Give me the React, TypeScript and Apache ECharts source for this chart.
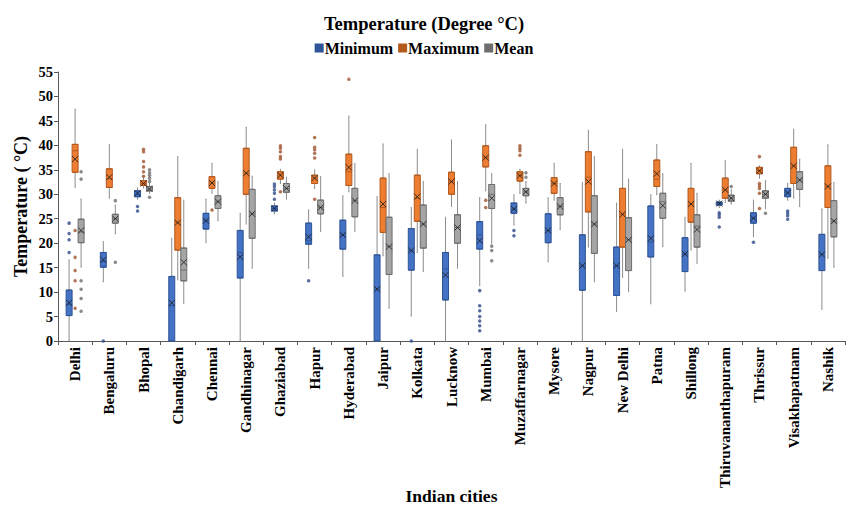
import React, { useEffect, useRef } from "react";
import * as echarts from "echarts";

const cities = [
  "Delhi", "Bengaluru", "Bhopal", "Chandigarh", "Chennai", "Gandhinagar", "Ghaziabad",
  "Hapur", "Hyderabad", "Jaipur", "Kolkata", "Lucknow", "Mumbai", "Muzaffarnagar",
  "Mysore", "Nagpur", "New Delhi", "Patna", "Shillong", "Thiruvananthapuram",
  "Thrissur", "Visakhapatnam", "Nashik",
];

const yTicks = { min: 0, max: 55, interval: 5 };

// [lower whisker, Q1, median, Q3, upper whisker]
const minimumStats = [
  [0, 5.2, 7.5, 10.4, 16.6], [12.1, 15.1, 16.3, 18.1, 20.3], [29.0, 29.5, 30.0, 30.7, 31.3],
  [0, 0, 7.2, 13.2, 21.0], [20.1, 22.9, 24.6, 26.1, 29.0], [0, 12.9, 18.1, 22.6, 26.1],
  [26.0, 26.6, 27.1, 27.6, 28.2], [14.9, 19.8, 20.5, 24.1, 26.8], [13.2, 18.8, 21.7, 24.7, 29.7],
  [0, 0, 10.6, 17.6, 29.5], [5.1, 14.5, 18.5, 23.0, 27.3], [0, 8.4, 14.7, 18.1, 25.3],
  [11.3, 18.8, 21.7, 24.4, 29.3], [23.7, 26.1, 27.0, 28.2, 29.9], [16.2, 20.1, 22.6, 26.0, 29.3],
  [0, 10.4, 15.4, 21.7, 32.4], [6.0, 9.3, 15.4, 19.2, 28.2], [7.6, 17.2, 20.2, 27.6, 29.9],
  [10.2, 14.2, 17.8, 21.1, 25.3], [27.3, 27.8, 28.1, 28.4, 28.8], [21.3, 24.1, 25.1, 26.2, 28.8],
  [28.8, 29.5, 30.3, 31.2, 32.2], [6.5, 14.4, 17.7, 21.8, 27.0],
];
const minimumMeans = [7.8, 16.6, 30.2, 7.8, 24.6, 17.2, 27.1, 21.3, 21.7, 10.6, 18.5, 13.5, 20.5, 27.0, 22.6, 15.4, 15.4, 21.0, 17.8, 28.1, 25.1, 30.3, 17.7];
const minimumOutliers = [
  [0, 24.1], [0, 22.0], [0, 20.7], [0, 18.1], [1, 0], [2, 27.5], [2, 26.6],
  [6, 32.1], [6, 31.6], [6, 30.9], [6, 30.2], [6, 29.0], [7, 12.3], [10, 0],
  [12, 10.3], [12, 7.2], [12, 6.2], [12, 5.0], [12, 4.1], [12, 3.1], [12, 2.1],
  [13, 22.6], [13, 21.5], [19, 26.2], [19, 25.8], [19, 25.3], [19, 23.3], [20, 20.2],
  [21, 26.6], [21, 26.1], [21, 25.6], [21, 24.9],
];

const maximumStats = [
  [31.4, 34.5, 38.9, 40.2, 47.4], [29.2, 31.4, 33.2, 35.2, 40.2], [31.3, 31.8, 32.2, 32.8, 33.5],
  [12.5, 18.6, 24.2, 29.3, 37.7], [30.2, 31.2, 32.3, 33.6, 36.3], [23.9, 30.0, 34.3, 39.4, 43.7],
  [32.2, 33.1, 33.9, 34.6, 35.1], [31.2, 32.2, 33.3, 33.9, 35.0], [30.5, 31.8, 34.6, 38.2, 46.0],
  [17.4, 22.2, 27.3, 33.3, 40.3], [18.1, 24.5, 29.2, 33.9, 39.2], [27.5, 30.0, 32.6, 34.5, 41.1],
  [30.7, 35.6, 37.5, 39.9, 44.2], [30.2, 32.7, 33.8, 34.6, 35.1], [28.8, 30.2, 32.2, 33.4, 36.3],
  [19.2, 26.4, 33.5, 38.7, 43.1], [13.0, 19.2, 25.9, 31.2, 39.2], [29.9, 31.6, 33.1, 37.0, 40.2],
  [18.6, 24.3, 28.0, 31.2, 36.3], [28.3, 29.2, 30.9, 33.3, 36.9], [33.3, 34.2, 34.8, 35.5, 35.8],
  [29.2, 32.2, 35.8, 39.6, 43.3], [16.9, 27.3, 31.6, 35.8, 40.1],
];
const maximumMeans = [37.2, 33.5, 32.2, 24.2, 32.3, 34.3, 33.9, 33.3, 35.5, 28.0, 29.5, 32.6, 37.5, 33.8, 32.2, 32.6, 25.9, 34.2, 28.0, 30.9, 34.8, 35.8, 31.6];
const maximumOutliers = [
  [0, 22.6], [0, 17.1], [0, 14.4], [0, 12.3], [0, 6.7],
  [2, 39.2], [2, 38.7], [2, 36.7], [2, 35.6], [2, 34.6], [2, 33.7], [4, 26.8],
  [6, 39.9], [6, 39.4], [6, 38.7], [6, 37.7], [6, 37.2], [6, 30.5],
  [7, 41.6], [7, 39.6], [7, 39.1], [7, 38.4], [7, 37.4], [7, 29.0], [8, 53.5],
  [12, 28.8], [12, 27.3], [13, 39.9], [13, 39.4], [13, 38.9], [13, 38.0],
  [20, 37.7], [20, 32.2], [20, 31.7], [20, 31.2], [20, 30.2], [20, 27.1],
];

const meanStats = [
  [15.1, 20.1, 22.3, 24.9, 29.0], [21.9, 24.1, 25.0, 25.9, 27.8], [30.2, 30.7, 31.1, 31.6, 32.2],
  [7.7, 12.3, 14.5, 19.0, 28.8], [24.6, 27.1, 28.5, 29.7, 32.6], [14.9, 21.0, 26.0, 31.0, 33.7],
  [29.0, 30.4, 31.2, 32.2, 33.5], [22.4, 26.0, 27.3, 28.8, 33.6], [22.4, 25.4, 28.7, 31.2, 36.3],
  [6.7, 13.6, 19.3, 25.3, 34.2], [14.2, 19.0, 23.9, 27.8, 32.6], [14.9, 20.0, 23.2, 25.8, 32.6],
  [20.0, 27.1, 30.0, 32.0, 34.2], [28.2, 29.7, 30.5, 31.2, 32.6], [22.8, 25.8, 27.5, 29.3, 32.2],
  [12.1, 17.9, 23.9, 29.7, 37.7], [10.1, 14.4, 20.7, 25.2, 33.1], [19.3, 25.1, 28.5, 30.2, 34.2],
  [15.9, 19.2, 23.5, 25.8, 30.2], [28.0, 28.6, 29.2, 29.8, 30.9], [27.1, 29.2, 30.0, 30.7, 32.8],
  [27.5, 31.0, 32.9, 34.6, 37.2], [15.1, 21.3, 24.5, 28.7, 32.4],
];
const meanMeans = [22.6, 25.0, 31.1, 16.1, 28.5, 26.0, 31.2, 27.3, 28.7, 19.3, 23.9, 23.2, 29.2, 30.5, 27.5, 23.9, 20.7, 27.7, 22.8, 29.2, 30.0, 32.9, 24.5];
const meanOutliers = [
  [0, 34.6], [0, 33.1], [0, 12.3], [0, 10.6], [0, 8.7], [0, 6.1], [1, 28.7], [1, 16.1],
  [2, 35.0], [2, 34.4], [2, 33.9], [2, 33.3], [2, 32.6], [2, 29.4],
  [12, 19.4], [12, 18.5], [12, 16.4], [13, 34.4], [13, 33.5], [19, 31.6], [20, 26.1],
];

const groups = [
  { name: "Minimum", stats: minimumStats, means: minimumMeans, outliers: minimumOutliers, fill: "#4472C4", border: "#2F5597", dot: "#2F4B8A" },
  { name: "Maximum", stats: maximumStats, means: maximumMeans, outliers: maximumOutliers, fill: "#ED7D31", border: "#B35A1F", dot: "#A0522D" },
  { name: "Mean", stats: meanStats, means: meanMeans, outliers: meanOutliers, fill: "#A5A5A5", border: "#6E6E6E", dot: "#6E6E6E" },
];

const FONT = "'Liberation Serif', 'Times New Roman', serif";
const GRID_LEFT = 58;
const GRID_W = 787;
const GRID_TOP = 72;
const GRID_H = 269;
const OFFSETS = [-6, 0, 6];
const MAIN_AXIS = 6; // an extra, visible axis pair with no offset

export default function App() {
  const ref = useRef<HTMLDivElement>(null);
  useEffect(() => {
    if (!ref.current) return;
    const chart = echarts.init(ref.current, null, { renderer: "svg" });
    // grid index layout: 0..2 whiskers, 3..5 boxes, 6 visible axes
    const gridOffsets = [...OFFSETS, ...OFFSETS, 0];
    const grids = gridOffsets.map((o) => ({
      left: GRID_LEFT + o,
      top: GRID_TOP,
      width: GRID_W,
      height: GRID_H,
      containLabel: false,
      outerBoundsMode: "none",
    }));
    const xAxes = gridOffsets.map((o, i) => ({
      type: "category",
      gridIndex: i,
      data: cities,
      show: i === MAIN_AXIS,
      boundaryGap: true,
      axisLine: { show: true, lineStyle: { color: "#595959", width: 1 } },
      axisTick: { show: true, length: 4, alignWithLabel: false, lineStyle: { color: "#595959" } },
      axisLabel: { interval: 0, rotate: 90, margin: 6, color: "#000", fontFamily: FONT, fontWeight: "bold", fontSize: 15 },
      splitLine: { show: false },
      name: "Indian cities",
      nameLocation: "middle",
      nameGap: 146,
      nameMoveOverlap: false,
      nameTextStyle: { color: "#000", fontFamily: FONT, fontWeight: "bold", fontSize: 17.5 },
    }));
    const yAxes = gridOffsets.map((o, i) => ({
      type: "value",
      gridIndex: i,
      show: i === MAIN_AXIS,
      min: yTicks.min,
      max: yTicks.max,
      interval: yTicks.interval,
      axisLine: { show: true, lineStyle: { color: "#595959", width: 1 } },
      axisTick: { show: true, length: 4, lineStyle: { color: "#595959" } },
      axisLabel: { margin: 5, color: "#000", fontFamily: FONT, fontWeight: "bold", fontSize: 14.5 },
      splitLine: { show: false },
      name: "Temperature ( °C)",
      nameLocation: "middle",
      nameGap: 28,
      nameMoveOverlap: false,
      nameRotate: 90,
      nameTextStyle: { color: "#000", fontFamily: FONT, fontWeight: "bold", fontSize: 18 },
    }));
    const series: any[] = [];
    groups.forEach((g, i) => {
      series.push({
        type: "boxplot",
        name: g.name + " whisker",
        xAxisIndex: i,
        yAxisIndex: i,
        z: 2,
        silent: true,
        boxWidth: [1, 1],
        itemStyle: { color: "#8C8C8C", borderColor: "#8C8C8C", borderWidth: 1 },
        data: g.stats,
      });
      series.push({
        type: "boxplot",
        name: g.name,
        xAxisIndex: i + 3,
        yAxisIndex: i + 3,
        z: 3,
        silent: true,
        boxWidth: [6, 6],
        itemStyle: { color: g.fill, borderColor: g.border, borderWidth: 1 },
        data: g.stats.map((s) => [s[1], s[1], s[2], s[3], s[3]]),
      });
      series.push({
        type: "scatter",
        name: g.name + " mean",
        xAxisIndex: i,
        yAxisIndex: i,
        z: 5,
        silent: true,
        symbol: "path://M0,0L10,10M10,0L0,10",
        symbolSize: 6,
        itemStyle: { color: "transparent", borderColor: "#1a1a1a", borderWidth: 1 },
        data: g.means.map((m, k) => [k, m]),
      });
      series.push({
        type: "scatter",
        name: g.name + " outliers",
        xAxisIndex: i,
        yAxisIndex: i,
        z: 4,
        silent: true,
        symbol: "circle",
        symbolSize: 3.5,
        itemStyle: { color: g.dot },
        data: g.outliers,
      });
    });
    chart.setOption({
      animation: false,
      backgroundColor: "#fff",
      title: {
        text: "Temperature (Degree °C)",
        left: "center",
        top: 9,
        textStyle: { color: "#000", fontFamily: FONT, fontWeight: "bold", fontSize: 18.5 },
      },
      legend: {
        data: groups.map((g) => g.name),
        top: 35,
        left: "center",
        icon: "rect",
        itemWidth: 7,
        itemHeight: 7,
        itemGap: 5,
        textStyle: { color: "#000", fontFamily: FONT, fontWeight: "bold", fontSize: 16, padding: [0, 0, 0, -3] },
      },
      grid: grids,
      xAxis: xAxes,
      yAxis: yAxes,
      series,
    });
    return () => chart.dispose();
  }, []);
  return <div ref={ref} style={{ position: "fixed", left: 0, top: 0, width: 848, height: 506 }} />;
}
